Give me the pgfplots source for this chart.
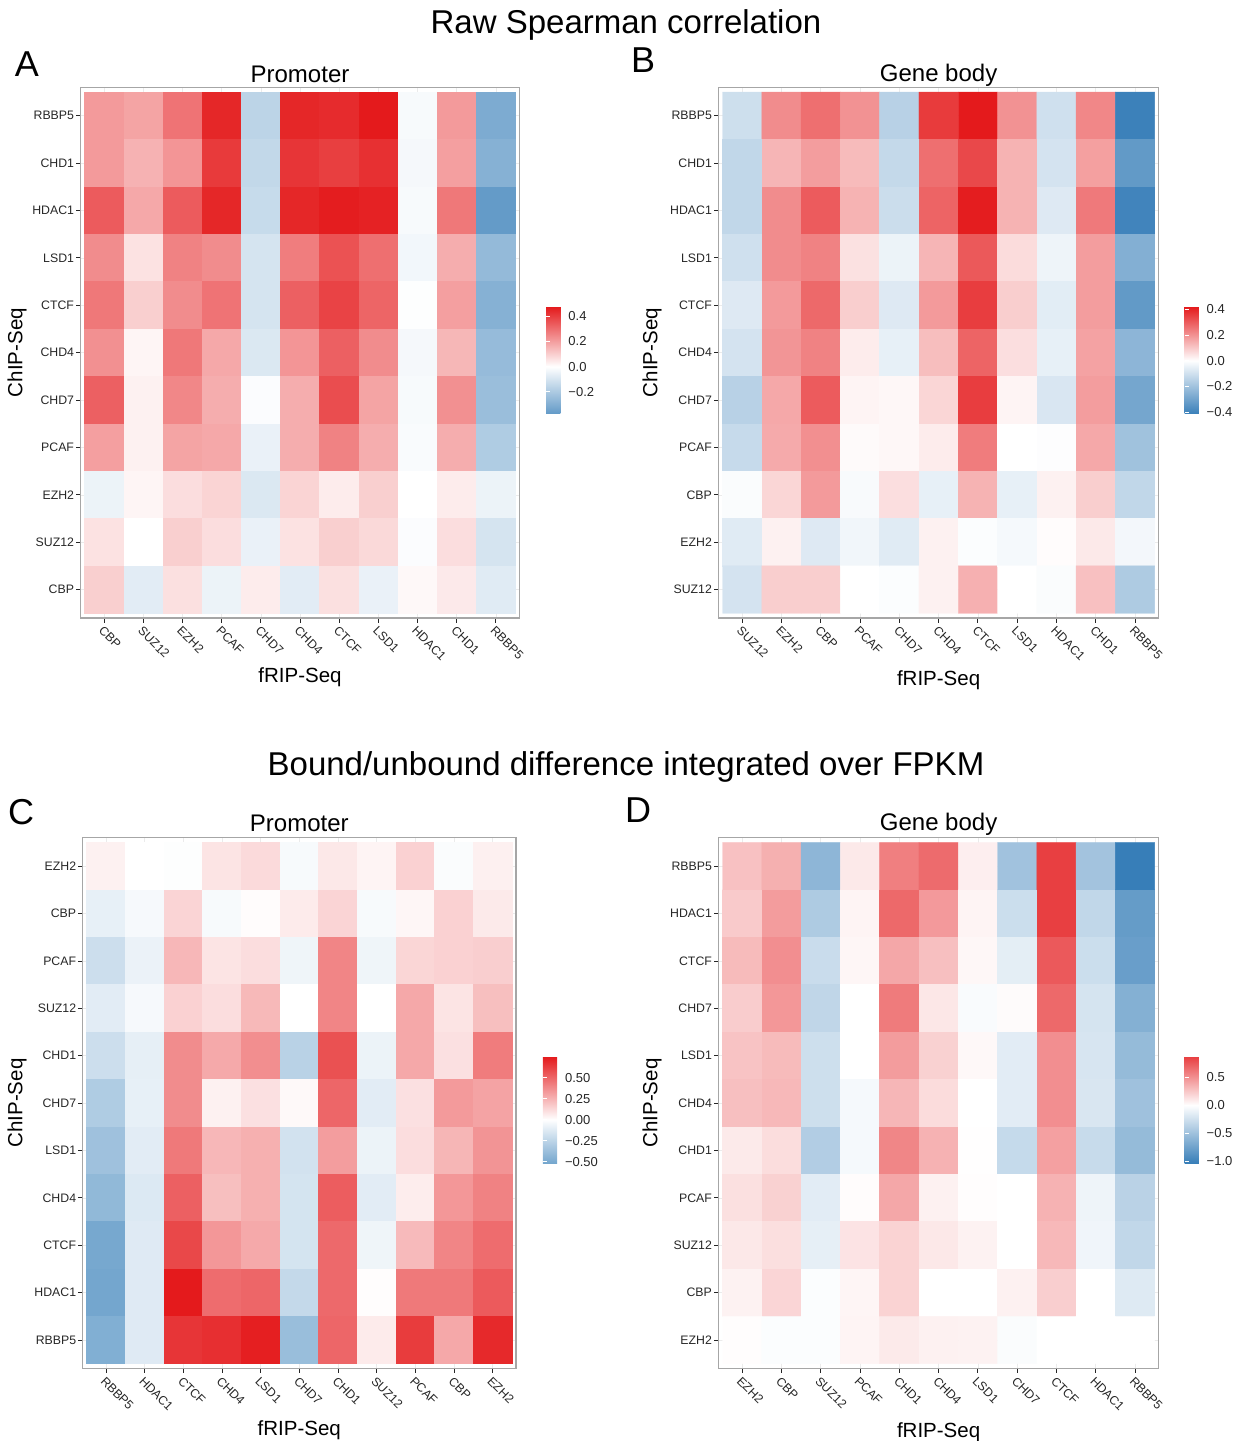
\documentclass[border=0pt]{standalone}
\usepackage{fontspec}
\setmainfont{Liberation Sans}
\usepackage{pgfplots}
\pgfplotsset{compat=1.18}
\usepackage{pgfplotstable}
\usetikzlibrary{calc}

\newcommand{\tickfont}{\fontsize{12.3}{14}\selectfont}
\newcommand{\cbfont}{\fontsize{13}{15}\selectfont}

\pgfplotsset{
  colormap={cmA}{rgb255(0pt)=(100,155,200) rgb255(370pt)=(255,255,255) rgb255(846pt)=(228,26,28)},
  colormap={cmB}{rgb255(0pt)=(60,129,186) rgb255(410pt)=(255,255,255) rgb255(830pt)=(228,26,28)},
  colormap={cmC}{rgb255(0pt)=(116,166,206) rgb255(520pt)=(255,255,255) rgb255(1270pt)=(228,26,28)},
  colormap={cmD}{rgb255(0pt)=(55,126,184) rgb255(1040pt)=(255,255,255) rgb255(1910pt)=(232,63,65)},
  hm/.style={
    scale only axis, anchor=north west, height=530.7pt,
    xmin=-0.6, xmax=10.6, ymin=-0.6, ymax=10.6,
    xtick={0,...,10}, ytick={0,...,10},
    tick align=outside, major tick length=4.5pt,
    xtick pos=left, ytick pos=left,
    tick style={black!85, line width=0.8pt},
    axis line style={black!35, line width=1.2pt},
    grid=major, grid style={black!8, line width=0.6pt},
    xticklabel style={font=\tickfont, text=black!85, rotate=-45, anchor=north west, inner sep=2pt},
    yticklabel style={font=\tickfont, text=black!85, anchor=east, inner sep=2pt},
    colorbar,
    colorbar style={
      scale only axis, width=21pt, height=106.6pt, anchor=north west,
      axis line style={draw=none},
      xmajorgrids=false, ymajorgrids=false,
      yticklabel pos=right, ytick pos=both,
      tick align=inside, major tick length=4pt,
      tick style={white, line width=0.8pt},
      yticklabel style={font=\cbfont, text=black!85, inner sep=2pt, xshift=-1pt},
    },
  },
}

% Panel A: Raw Spearman, Promoter
\pgfplotstableread[row sep=\\]{
x y v\\
0 10 0.21\\ 1 10 0.19\\ 2 10 0.29\\ 3 10 0.45\\ 4 10 -0.16\\ 5 10 0.45\\ 6 10 0.44\\ 7 10 0.476\\ 8 10 -0.02\\ 9 10 0.21\\ 10 10 -0.31\\
0 9 0.21\\ 1 9 0.16\\ 2 9 0.22\\ 3 9 0.41\\ 4 9 -0.145\\ 5 9 0.42\\ 6 9 0.40\\ 7 9 0.43\\ 8 9 -0.025\\ 9 9 0.20\\ 10 9 -0.29\\
0 8 0.34\\ 1 8 0.18\\ 2 8 0.34\\ 3 8 0.45\\ 4 8 -0.135\\ 5 8 0.45\\ 6 8 0.47\\ 7 8 0.46\\ 8 8 -0.02\\ 9 8 0.28\\ 10 8 -0.37\\
0 7 0.24\\ 1 7 0.06\\ 2 7 0.26\\ 3 7 0.24\\ 4 7 -0.10\\ 5 7 0.27\\ 6 7 0.36\\ 7 7 0.30\\ 8 7 -0.03\\ 9 7 0.17\\ 10 7 -0.255\\
0 6 0.28\\ 1 6 0.10\\ 2 6 0.24\\ 3 6 0.29\\ 4 6 -0.10\\ 5 6 0.33\\ 6 6 0.39\\ 7 6 0.32\\ 8 6 -0.005\\ 9 6 0.20\\ 10 6 -0.29\\
0 5 0.23\\ 1 5 0.02\\ 2 5 0.28\\ 3 5 0.18\\ 4 5 -0.085\\ 5 5 0.22\\ 6 5 0.33\\ 7 5 0.24\\ 8 5 -0.025\\ 9 5 0.15\\ 10 5 -0.25\\
0 4 0.33\\ 1 4 0.03\\ 2 4 0.25\\ 3 4 0.17\\ 4 4 -0.01\\ 5 4 0.17\\ 6 4 0.37\\ 7 4 0.19\\ 8 4 -0.02\\ 9 4 0.23\\ 10 4 -0.24\\
0 3 0.20\\ 1 3 0.03\\ 2 3 0.19\\ 3 3 0.18\\ 4 3 -0.05\\ 5 3 0.17\\ 6 3 0.26\\ 7 3 0.17\\ 8 3 -0.015\\ 9 3 0.17\\ 10 3 -0.19\\
0 2 -0.045\\ 1 2 0.02\\ 2 2 0.07\\ 3 2 0.09\\ 4 2 -0.085\\ 5 2 0.09\\ 6 2 0.04\\ 7 2 0.10\\ 8 2 0.0\\ 9 2 0.04\\ 10 2 -0.045\\
0 1 0.06\\ 1 1 0.0\\ 2 1 0.10\\ 3 1 0.07\\ 4 1 -0.05\\ 5 1 0.06\\ 6 1 0.10\\ 7 1 0.08\\ 8 1 -0.01\\ 9 1 0.07\\ 10 1 -0.10\\
0 0 0.10\\ 1 0 -0.07\\ 2 0 0.065\\ 3 0 -0.045\\ 4 0 0.04\\ 5 0 -0.07\\ 6 0 0.065\\ 7 0 -0.05\\ 8 0 0.015\\ 9 0 0.045\\ 10 0 -0.075\\
}\dataA

% Panel B: Raw Spearman, Gene body
\pgfplotstableread[row sep=\\]{
x y v\\
0 10 -0.105\\ 1 10 0.21\\ 2 10 0.265\\ 3 10 0.20\\ 4 10 -0.15\\ 5 10 0.36\\ 6 10 0.42\\ 7 10 0.20\\ 8 10 -0.10\\ 9 10 0.22\\ 10 10 -0.41\\
0 9 -0.13\\ 1 9 0.135\\ 2 9 0.18\\ 3 9 0.125\\ 4 9 -0.125\\ 5 9 0.265\\ 6 9 0.335\\ 7 9 0.14\\ 8 9 -0.09\\ 9 9 0.175\\ 10 9 -0.33\\
0 8 -0.13\\ 1 8 0.21\\ 2 8 0.30\\ 3 8 0.14\\ 4 8 -0.11\\ 5 8 0.285\\ 6 8 0.415\\ 7 8 0.14\\ 8 8 -0.07\\ 9 8 0.245\\ 10 8 -0.40\\
0 7 -0.10\\ 1 7 0.21\\ 2 7 0.23\\ 3 7 0.055\\ 4 7 -0.04\\ 5 7 0.135\\ 6 7 0.305\\ 7 7 0.065\\ 8 7 -0.035\\ 9 7 0.18\\ 10 7 -0.26\\
0 6 -0.07\\ 1 6 0.185\\ 2 6 0.275\\ 3 6 0.09\\ 4 6 -0.07\\ 5 6 0.185\\ 6 6 0.355\\ 7 6 0.09\\ 8 6 -0.06\\ 9 6 0.18\\ 10 6 -0.33\\
0 5 -0.09\\ 1 5 0.195\\ 2 5 0.23\\ 3 5 0.035\\ 4 5 -0.05\\ 5 5 0.12\\ 6 5 0.285\\ 7 5 0.06\\ 8 5 -0.05\\ 9 5 0.17\\ 10 5 -0.24\\
0 4 -0.15\\ 1 4 0.16\\ 2 4 0.30\\ 3 4 0.02\\ 4 4 0.015\\ 5 4 0.075\\ 6 4 0.355\\ 7 4 0.02\\ 8 4 -0.08\\ 9 4 0.18\\ 10 4 -0.29\\
0 3 -0.12\\ 1 3 0.155\\ 2 3 0.205\\ 3 3 0.01\\ 4 3 0.015\\ 5 3 0.035\\ 6 3 0.24\\ 7 3 0.0\\ 8 3 -0.005\\ 9 3 0.16\\ 10 3 -0.20\\
0 2 -0.01\\ 1 2 0.075\\ 2 2 0.185\\ 3 2 -0.015\\ 4 2 0.06\\ 5 2 -0.05\\ 6 2 0.14\\ 7 2 -0.05\\ 8 2 0.025\\ 9 2 0.09\\ 10 2 -0.13\\
0 1 -0.065\\ 1 1 0.025\\ 2 1 -0.07\\ 3 1 -0.03\\ 4 1 -0.065\\ 5 1 0.025\\ 6 1 -0.008\\ 7 1 -0.02\\ 8 1 0.005\\ 9 1 0.04\\ 10 1 -0.025\\
0 0 -0.09\\ 1 0 0.09\\ 2 0 0.09\\ 3 0 0.0\\ 4 0 -0.008\\ 5 0 0.025\\ 6 0 0.145\\ 7 0 0.0\\ 8 0 -0.01\\ 9 0 0.115\\ 10 0 -0.17\\
}\dataB

% Panel C: Bound/unbound, Promoter
\pgfplotstableread[row sep=\\]{
x y v\\
0 10 0.045\\ 1 10 0.0\\ 2 10 -0.007\\ 3 10 0.09\\ 4 10 0.12\\ 5 10 -0.03\\ 6 10 0.075\\ 7 10 0.035\\ 8 10 0.15\\ 9 10 -0.02\\ 10 10 0.05\\
0 9 -0.09\\ 1 9 -0.035\\ 2 9 0.14\\ 3 9 -0.03\\ 4 9 0.01\\ 5 9 0.065\\ 6 9 0.14\\ 7 9 -0.03\\ 8 9 0.03\\ 9 9 0.15\\ 10 9 0.07\\
0 8 -0.19\\ 1 8 -0.075\\ 2 8 0.235\\ 3 8 0.09\\ 4 8 0.11\\ 5 8 -0.06\\ 6 8 0.40\\ 7 8 -0.06\\ 8 8 0.135\\ 9 8 0.15\\ 10 8 0.16\\
0 7 -0.11\\ 1 7 -0.035\\ 2 7 0.15\\ 3 7 0.11\\ 4 7 0.23\\ 5 7 0.0\\ 6 7 0.40\\ 7 7 0.0\\ 8 7 0.285\\ 9 7 0.09\\ 10 7 0.21\\
0 6 -0.19\\ 1 6 -0.095\\ 2 6 0.375\\ 3 6 0.28\\ 4 6 0.37\\ 5 6 -0.26\\ 6 6 0.57\\ 7 6 -0.07\\ 8 6 0.285\\ 9 6 0.10\\ 10 6 0.43\\
0 5 -0.30\\ 1 5 -0.09\\ 2 5 0.375\\ 3 5 0.045\\ 4 5 0.10\\ 5 5 0.02\\ 6 5 0.50\\ 7 5 -0.11\\ 8 5 0.10\\ 9 5 0.33\\ 10 5 0.30\\
0 4 -0.36\\ 1 4 -0.11\\ 2 4 0.44\\ 3 4 0.235\\ 4 4 0.26\\ 5 4 -0.17\\ 6 4 0.32\\ 7 4 -0.07\\ 8 4 0.11\\ 9 4 0.24\\ 10 4 0.35\\
0 3 -0.41\\ 1 3 -0.13\\ 2 3 0.52\\ 3 3 0.21\\ 4 3 0.26\\ 5 3 -0.16\\ 6 3 0.53\\ 7 3 -0.11\\ 8 3 0.06\\ 9 3 0.34\\ 10 3 0.41\\
0 2 -0.51\\ 1 2 -0.12\\ 2 2 0.60\\ 3 2 0.34\\ 4 2 0.28\\ 5 2 -0.16\\ 6 2 0.49\\ 7 2 -0.06\\ 8 2 0.225\\ 9 2 0.40\\ 10 2 0.48\\
0 1 -0.52\\ 1 1 -0.12\\ 2 1 0.75\\ 3 1 0.48\\ 4 1 0.50\\ 5 1 -0.22\\ 6 1 0.49\\ 7 1 0.005\\ 8 1 0.44\\ 9 1 0.44\\ 10 1 0.54\\
0 0 -0.47\\ 1 0 -0.12\\ 2 0 0.66\\ 3 0 0.68\\ 4 0 0.735\\ 5 0 -0.38\\ 6 0 0.50\\ 7 0 0.065\\ 8 0 0.64\\ 9 0 0.285\\ 10 0 0.70\\
}\dataC

% Panel D: Bound/unbound, Gene body
\pgfplotstableread[row sep=\\]{
x y v\\
0 10 0.28\\ 1 10 0.36\\ 2 10 -0.59\\ 3 10 0.10\\ 4 10 0.58\\ 5 10 0.67\\ 6 10 0.075\\ 7 10 -0.49\\ 8 10 0.87\\ 9 10 -0.48\\ 10 10 -1.04\\
0 9 0.24\\ 1 9 0.45\\ 2 9 -0.42\\ 3 9 0.05\\ 4 9 0.68\\ 5 9 0.46\\ 6 9 0.05\\ 7 9 -0.27\\ 8 9 0.87\\ 9 9 -0.32\\ 10 9 -0.80\\
0 8 0.31\\ 1 8 0.51\\ 2 8 -0.28\\ 3 8 0.04\\ 4 8 0.40\\ 5 8 0.29\\ 6 8 0.035\\ 7 8 -0.14\\ 8 8 0.75\\ 9 8 -0.27\\ 10 8 -0.78\\
0 7 0.23\\ 1 7 0.47\\ 2 7 -0.33\\ 3 7 0.0\\ 4 7 0.60\\ 5 7 0.11\\ 6 7 -0.03\\ 7 7 0.02\\ 8 7 0.68\\ 9 7 -0.22\\ 10 7 -0.64\\
0 6 0.27\\ 1 6 0.31\\ 2 6 -0.26\\ 3 6 0.0\\ 4 6 0.45\\ 5 6 0.21\\ 6 6 0.03\\ 7 6 -0.15\\ 8 6 0.51\\ 9 6 -0.21\\ 10 6 -0.55\\
0 5 0.29\\ 1 5 0.32\\ 2 5 -0.26\\ 3 5 -0.05\\ 4 5 0.33\\ 5 5 0.16\\ 6 5 0.0\\ 7 5 -0.15\\ 8 5 0.51\\ 9 5 -0.20\\ 10 5 -0.50\\
0 4 0.095\\ 1 4 0.155\\ 2 4 -0.40\\ 3 4 -0.05\\ 4 4 0.55\\ 5 4 0.35\\ 6 4 0.005\\ 7 4 -0.30\\ 8 4 0.43\\ 9 4 -0.29\\ 10 4 -0.55\\
0 3 0.14\\ 1 3 0.21\\ 2 3 -0.15\\ 3 3 0.015\\ 4 3 0.40\\ 5 3 0.065\\ 6 3 0.01\\ 7 3 0.0\\ 8 3 0.35\\ 9 3 -0.09\\ 10 3 -0.36\\
0 2 0.105\\ 1 2 0.145\\ 2 2 -0.13\\ 3 2 0.125\\ 4 2 0.20\\ 5 2 0.105\\ 6 2 0.06\\ 7 2 0.0\\ 8 2 0.32\\ 9 2 -0.08\\ 10 2 -0.32\\
0 1 0.06\\ 1 1 0.19\\ 2 1 -0.02\\ 3 1 0.045\\ 4 1 0.20\\ 5 1 0.0\\ 6 1 0.0\\ 7 1 0.065\\ 8 1 0.22\\ 9 1 0.0\\ 10 1 -0.17\\
0 0 0.01\\ 1 0 -0.02\\ 2 0 -0.02\\ 3 0 0.05\\ 4 0 0.095\\ 5 0 0.065\\ 6 0 0.06\\ 7 0 -0.025\\ 8 0 0.0\\ 9 0 0.0\\ 10 0 0.0\\
}\dataD

\begin{document}
\begin{tikzpicture}
\path[use as bounding box] (0pt,0pt) rectangle (1238pt,-1441pt);

% ---------- A ----------
\begin{axis}[hm, name=A, at={(80.7pt,-87.3pt)}, width=438.6pt,
  xticklabels={CBP,SUZ12,EZH2,PCAF,CHD7,CHD4,CTCF,LSD1,HDAC1,CHD1,RBBP5},
  yticklabels={CBP,SUZ12,EZH2,PCAF,CHD7,CHD4,CTCF,LSD1,HDAC1,CHD1,RBBP5},
  colormap name=cmA, point meta min=-0.37, point meta max=0.476,
  colorbar style={at={($(parent axis.north east)+(18.4pt,-219.4pt)$)},
    ytick={-0.2,0,0.2,0.4}, yticklabels={−0.2,0.0,0.2,0.4}},
]
\addplot[matrix plot*, mesh/cols=11, point meta=explicit] table[x=x,y=y,meta=v] {\dataA};
\end{axis}

% ---------- B ----------
\begin{axis}[hm, name=B, at={(718.6pt,-87.3pt)}, width=440pt,
  xticklabels={SUZ12,EZH2,CBP,PCAF,CHD7,CHD4,CTCF,LSD1,HDAC1,CHD1,RBBP5},
  yticklabels={SUZ12,EZH2,CBP,PCAF,CHD7,CHD4,CTCF,LSD1,HDAC1,CHD1,RBBP5},
  colormap name=cmB, point meta min=-0.41, point meta max=0.42,
  colorbar style={at={($(parent axis.north east)+(17.4pt,-219.4pt)$)},
    ytick={-0.4,-0.2,0,0.2,0.4}, yticklabels={−0.4,−0.2,0.0,0.2,0.4}},
]
\addplot[matrix plot*, mesh/cols=11, point meta=explicit] table[x=x,y=y,meta=v] {\dataB};
\end{axis}

% ---------- C ----------
\begin{axis}[hm, name=C, at={(82.8pt,-837.7pt)}, width=433.1pt,
  xticklabels={RBBP5,HDAC1,CTCF,CHD4,LSD1,CHD7,CHD1,SUZ12,PCAF,CBP,EZH2},
  yticklabels={RBBP5,HDAC1,CTCF,CHD4,LSD1,CHD7,CHD1,SUZ12,PCAF,CBP,EZH2},
  colormap name=cmC, point meta min=-0.52, point meta max=0.75,
  colorbar style={at={($(parent axis.north east)+(18.4pt,-219pt)$)},
    ytick={-0.5,-0.25,0,0.25,0.5}, yticklabels={−0.50,−0.25,0.00,0.25,0.50}},
]
\addplot[matrix plot*, mesh/cols=11, point meta=explicit] table[x=x,y=y,meta=v] {\dataC};
\end{axis}

% ---------- D ----------
\begin{axis}[hm, name=D, at={(718.6pt,-837.7pt)}, width=440pt,
  xticklabels={EZH2,CBP,SUZ12,PCAF,CHD1,CHD4,LSD1,CHD7,CTCF,HDAC1,RBBP5},
  yticklabels={EZH2,CBP,SUZ12,PCAF,CHD1,CHD4,LSD1,CHD7,CTCF,HDAC1,RBBP5},
  colormap name=cmD, point meta min=-1.04, point meta max=0.87,
  colorbar style={at={($(parent axis.north east)+(17.4pt,-219pt)$)},
    ytick={-1,-0.5,0,0.5}, yticklabels={−1.0,−0.5,0.0,0.5}},
]
\addplot[matrix plot*, mesh/cols=11, point meta=explicit] table[x=x,y=y,meta=v] {\dataD};
\end{axis}

% ---------- texts ----------
\node[font=\fontsize{33}{38}\selectfont] at (626pt,-25pt) {Raw Spearman correlation};
\node[font=\fontsize{33}{38}\selectfont] at (626pt,-767pt) {Bound/unbound difference integrated over FPKM};

\node[font=\fontsize{36}{40}\selectfont] at (27pt,-64pt) {A};
\node[font=\fontsize{36}{40}\selectfont] at (643pt,-60pt) {B};
\node[font=\fontsize{36}{40}\selectfont] at (21pt,-812pt) {C};
\node[font=\fontsize{36}{40}\selectfont] at (638pt,-810pt) {D};

\node[font=\fontsize{24}{28}\selectfont] at (300pt,-74pt) {Promoter};
\node[font=\fontsize{24}{28}\selectfont] at (938.6pt,-75pt) {Gene body};
\node[font=\fontsize{24}{28}\selectfont] at (299.3pt,-823pt) {Promoter};
\node[font=\fontsize{24}{28}\selectfont] at (938.6pt,-824pt) {Gene body};

\node[font=\fontsize{20.5}{24}\selectfont] at (300pt,-677pt) {fRIP-Seq};
\node[font=\fontsize{20.5}{24}\selectfont] at (938.6pt,-680pt) {fRIP-Seq};
\node[font=\fontsize{20.5}{24}\selectfont] at (299.3pt,-1430pt) {fRIP-Seq};
\node[font=\fontsize{20.5}{24}\selectfont] at (938.6pt,-1432pt) {fRIP-Seq};

\node[font=\fontsize{20.5}{24}\selectfont, rotate=90] at (17pt,-352.6pt) {ChIP-Seq};
\node[font=\fontsize{20.5}{24}\selectfont, rotate=90] at (652pt,-352.6pt) {ChIP-Seq};
\node[font=\fontsize{20.5}{24}\selectfont, rotate=90] at (17pt,-1103pt) {ChIP-Seq};
\node[font=\fontsize{20.5}{24}\selectfont, rotate=90] at (652pt,-1103pt) {ChIP-Seq};
\end{tikzpicture}
\end{document}
